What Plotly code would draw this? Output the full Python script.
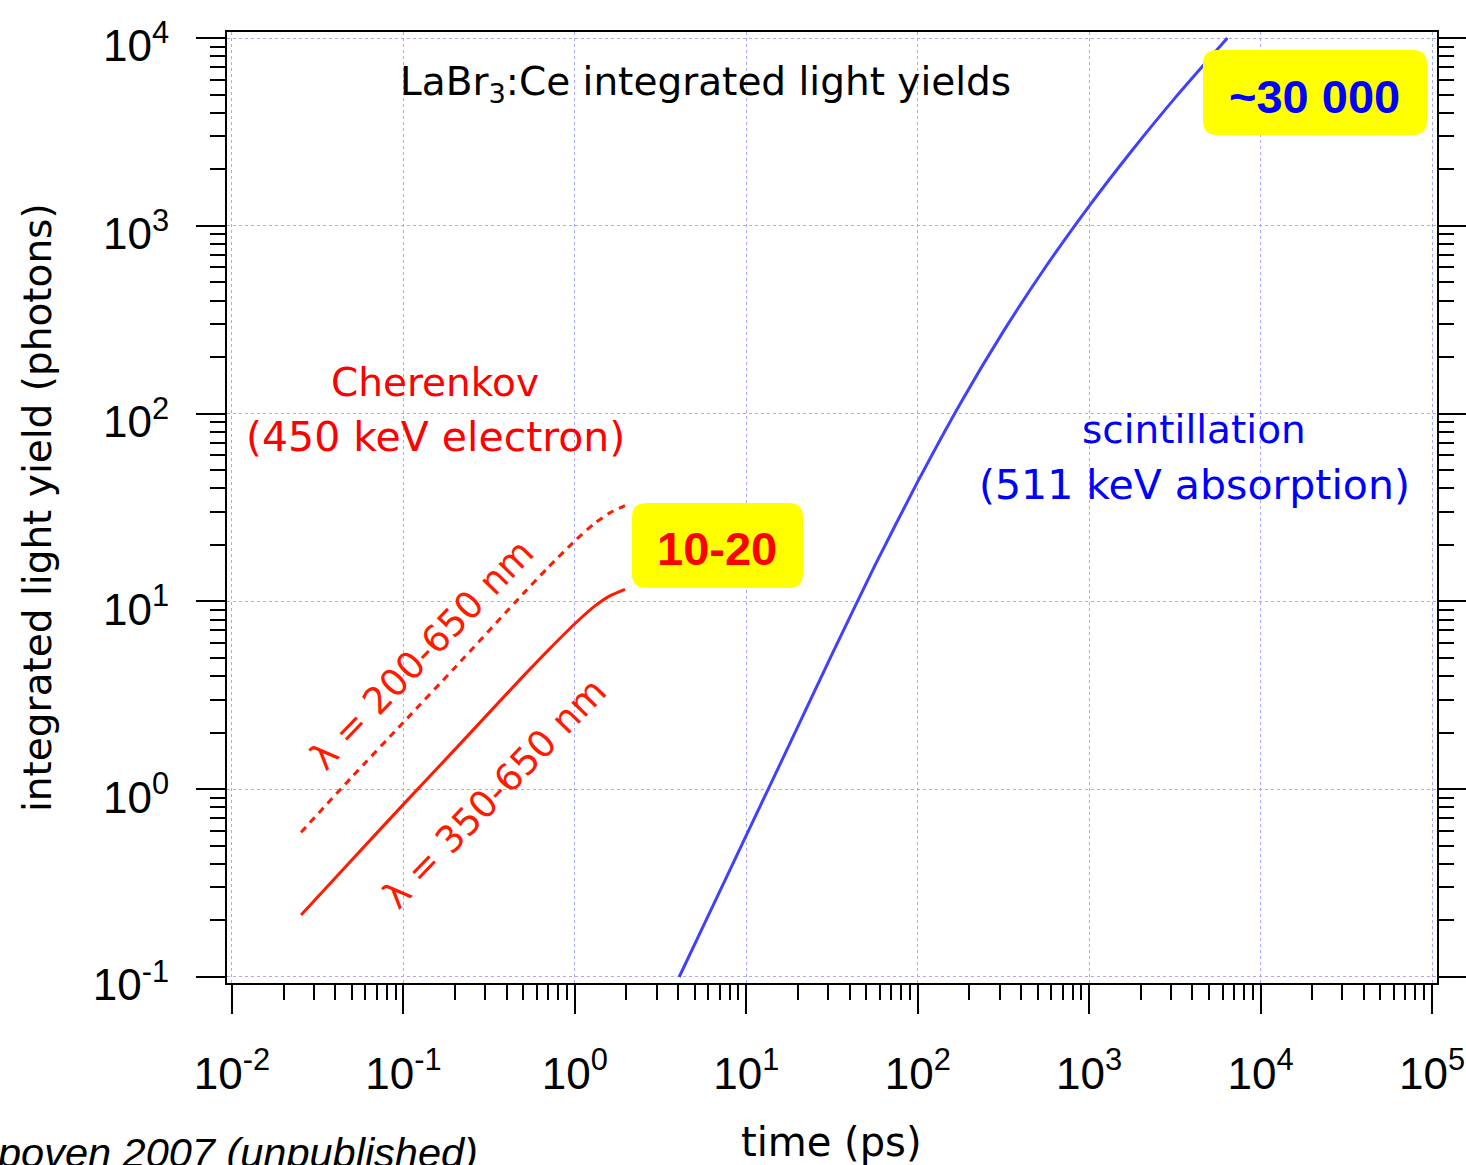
import plotly.graph_objects as go

# ---------------- data ----------------
t_scint = [4.06, 5.62, 10.0, 17.8, 31.6, 56.2, 100.0, 178.0, 316.0, 562.0, 1000.0, 1778.0, 3162.0, 6400.0]
y_scint = [0.100, 0.187, 0.568, 1.72, 5.22, 15.5, 43.4, 114.0, 274.0, 611.0, 1274.0, 2518.0, 4786.0, 10000.0]

t_cher = [0.0253, 0.05, 0.1, 0.2, 0.5, 0.7, 1.0, 1.3, 1.6, 1.96]
y_cher_350 = [0.214, 0.42, 0.83, 1.63, 4.0, 5.5, 7.6, 9.4, 10.7, 11.6]
y_cher_200 = [0.59, 1.16, 2.27, 4.45, 11.0, 15.2, 21.0, 26.0, 29.6, 32.4]

x_tickvals = [1e-2, 1e-1, 1e0, 1e1, 1e2, 1e3, 1e4, 1e5]
x_ticktext = ["10<sup>-2</sup>", "10<sup>-1</sup>", "10<sup>0</sup>", "10<sup>1</sup>",
              "10<sup>2</sup>", "10<sup>3</sup>", "10<sup>4</sup>", "10<sup>5</sup>"]
y_tickvals = [1e-1, 1e0, 1e1, 1e2, 1e3, 1e4]
y_ticktext = ["10<sup>-1</sup>", "10<sup>0</sup>", "10<sup>1</sup>", "10<sup>2</sup>",
              "10<sup>3</sup>", "10<sup>4</sup>"]

# ---------------- layout geometry ----------------
W, H = 1466, 1165
L, R, T, B = 227, 29, 32, 182
PW, PH = W - L - R, H - T - B


def px(x):
    return (x - L) / PW


def py(y):
    return (H - B - y) / PH


def minor_vals(lo, hi):
    out = []
    for e in range(lo, hi):
        for m in range(2, 10):
            out.append(m * 10.0 ** e)
    return out


fig = go.Figure()

fig.add_trace(go.Scatter(x=t_cher, y=y_cher_200, mode="lines",
                         line=dict(color="#ff1a00", width=3, dash="7px,6px",
                                   shape="spline", smoothing=0.6),
                         showlegend=False))
fig.add_trace(go.Scatter(x=t_cher, y=y_cher_350, mode="lines",
                         line=dict(color="#ff1a00", width=3, shape="spline", smoothing=0.6),
                         showlegend=False))
fig.add_trace(go.Scatter(x=t_scint, y=y_scint, mode="lines",
                         line=dict(color="#4040ff", width=3, shape="spline", smoothing=0.6),
                         showlegend=False))

tickfont = dict(family="Liberation Sans, Arial, sans-serif", size=44, color="black")
gridc = "#a8a8ff"

fig.update_xaxes(type="log", range=[-2.029, 5.029], automargin=False,
                 tickmode="array", tickvals=x_tickvals, ticktext=x_ticktext,
                 ticks="outside", ticklen=29, tickwidth=2, tickcolor="black",
                 minor=dict(tickmode="array", tickvals=minor_vals(-2, 5),
                            ticks="outside", ticklen=15, tickwidth=2,
                            tickcolor="black", showgrid=False),
                 showline=True, linewidth=2, linecolor="black", mirror=True,
                 showgrid=True, gridcolor=gridc, gridwidth=1, griddash="dot",
                 tickfont=tickfont, ticklabelstandoff=22, zeroline=False)

fig.update_yaxes(type="log", range=[-1.032, 4.032], automargin=False,
                 tickmode="array", tickvals=y_tickvals, ticktext=y_ticktext,
                 ticks="outside", ticklen=29, tickwidth=2, tickcolor="black",
                 minor=dict(tickmode="array", tickvals=minor_vals(-1, 4),
                            ticks="outside", ticklen=15, tickwidth=2,
                            tickcolor="black", showgrid=False),
                 showline=True, linewidth=2, linecolor="black", mirror="ticks",
                 showgrid=True, gridcolor=gridc, gridwidth=1, griddash="dot",
                 tickfont=tickfont, ticklabelstandoff=18, ticklabelshift=8,
                 zeroline=False)

lab = "DejaVu Sans, Verdana, sans-serif"
ann = []


def add_text(x, y, text, size, color, family=lab, angle=0, xanchor="center", yanchor="middle"):
    ann.append(dict(x=px(x), y=py(y), xref="paper", yref="paper", text=text,
                    showarrow=False, textangle=angle, xanchor=xanchor, yanchor=yanchor,
                    font=dict(family=family, size=size, color=color)))


add_text(705, 84, "LaBr<sub>3</sub>:Ce integrated light yields", 39, "black")
add_text(435, 382, "Cherenkov", 39, "#ff0000")
add_text(435, 437, "(450 keV electron)", 41, "#ff0000")
add_text(1194, 430, "scintillation", 39, "#0000ff")
add_text(1194, 485, "(511 keV absorption)", 41, "#0000ff")
add_text(422, 655, "λ = 200-650 nm", 37, "#ff1a00", angle=-46)
add_text(494, 793, "λ = 350-650 nm", 37, "#ff1a00", angle=-46)
add_text(831, 1142, "time (ps)", 40, "black")
add_text(37, 508, "integrated light yield (photons)", 39, "black", angle=-90)
add_text(-6, 1152, "<i>poven 2007 (unpublished)</i>", 41.5, "black",
         family="Liberation Sans, Arial, sans-serif", xanchor="left")


def rounded_box(x0, y0, x1, y1, r):
    X0, X1 = px(x0), px(x1)
    Y0, Y1 = py(y0), py(y1)
    rx, ry = r / PW, r / PH
    p = (f"M {X0+rx},{Y0} L {X1-rx},{Y0} Q {X1},{Y0} {X1},{Y0-ry} "
         f"L {X1},{Y1+ry} Q {X1},{Y1} {X1-rx},{Y1} L {X0+rx},{Y1} "
         f"Q {X0},{Y1} {X0},{Y1+ry} L {X0},{Y0-ry} Q {X0},{Y0} {X0+rx},{Y0} Z")
    return dict(type="path", path=p, xref="paper", yref="paper",
                fillcolor="#ffff00", line=dict(width=0), layer="above")


shapes = [rounded_box(1203, 50, 1427, 135, 14), rounded_box(632, 503, 803, 588, 14)]

add_text(1314, 96, "<b>~30 000</b>", 47, "#0000ff", family="Liberation Sans, Arial, sans-serif")
add_text(717, 548, "<b>10-20</b>", 47, "#ff0000", family="Liberation Sans, Arial, sans-serif")

fig.update_layout(width=W, height=H, margin=dict(l=L, r=R, t=T, b=B),
                  plot_bgcolor="white", paper_bgcolor="white",
                  annotations=ann, shapes=shapes, showlegend=False)

fig.write_html("out.html")
